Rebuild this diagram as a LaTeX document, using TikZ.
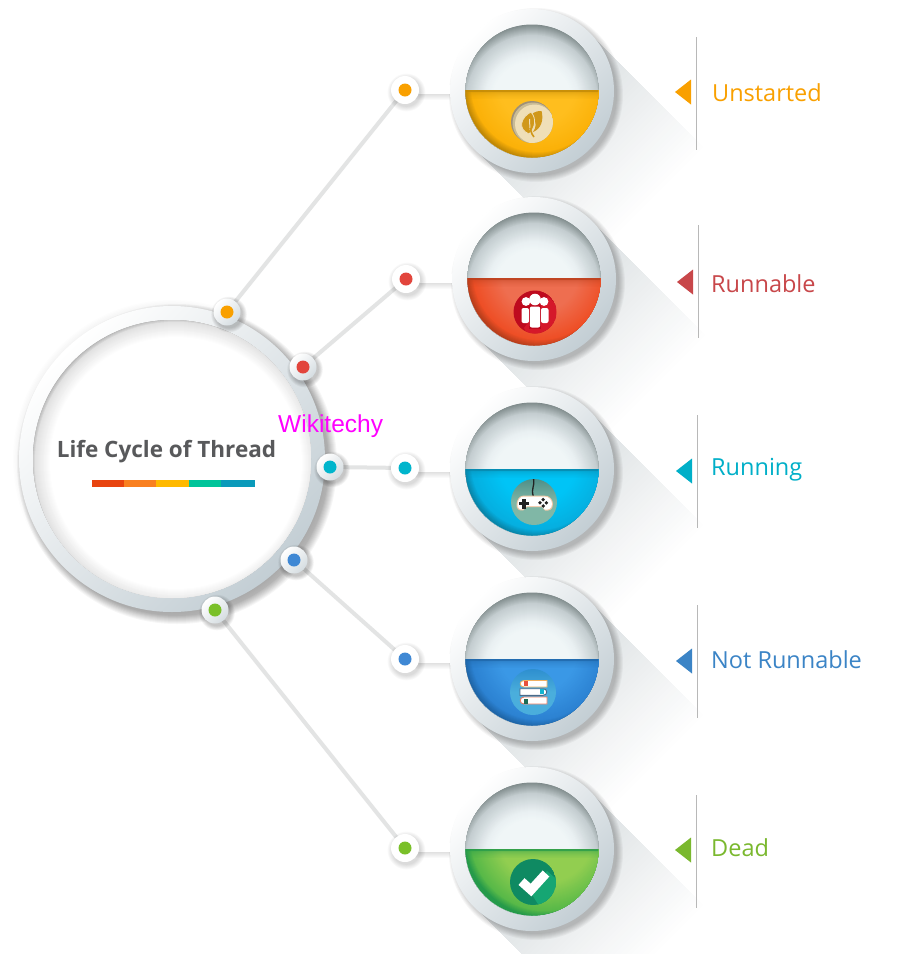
\documentclass[tikz,border=0pt]{standalone}
\usepackage{fontspec}
\setmainfont{Open Sans}
\newfontfamily\wikifont{Liberation Sans}
\usetikzlibrary{calc}
\definecolor{ringlo}{HTML}{C3CED4}
\definecolor{linegray}{HTML}{E3E4E4}
\definecolor{slateT}{HTML}{58595B}
\definecolor{cOrange}{HTML}{F9A000}
\definecolor{cRed}{HTML}{E2453C}
\definecolor{cTeal}{HTML}{00B5CC}
\definecolor{cBlue}{HTML}{3F88D4}
\definecolor{cGreen}{HTML}{7AC029}
\definecolor{tRed}{HTML}{C8474A}
\definecolor{tTeal}{HTML}{00AFC8}
\definecolor{tBlue}{HTML}{3B84C6}
\definecolor{tGreen}{HTML}{7AB82E}
\definecolor{longshade}{HTML}{D9DEE0}
\definecolor{hubgray}{HTML}{ABABAB}
\definecolor{hubmid}{HTML}{E2E2E2}
\definecolor{hubwh}{HTML}{FFFFFF}
\definecolor{bar1}{HTML}{E8440F}\definecolor{bar2}{HTML}{F98020}\definecolor{bar3}{HTML}{FFB900}\definecolor{bar4}{HTML}{00C49A}\definecolor{bar5}{HTML}{0A9ABA}
\definecolor{leafc}{HTML}{D0981A}\definecolor{leafa}{HTML}{9E9078}\definecolor{leafb}{HTML}{C9BB95}\definecolor{leafd}{HTML}{EFDFB8}
\definecolor{pplA}{HTML}{BE0A1E}\definecolor{pplB}{HTML}{D5182A}
\definecolor{padA}{HTML}{4F8F88}\definecolor{padB}{HTML}{80B7A6}\definecolor{padE}{HTML}{F2C9A8}\definecolor{padK}{HTML}{222222}
\definecolor{bkA}{HTML}{2E8FCF}\definecolor{bkB}{HTML}{4AAEDC}\definecolor{bkO}{HTML}{F0B060}\definecolor{bkS}{HTML}{4A6A8A}\definecolor{bkR}{HTML}{EE7A60}\definecolor{bkT1}{HTML}{E8503A}\definecolor{bkT2}{HTML}{12B5D0}\definecolor{bkT3}{HTML}{1F6B55}
\definecolor{okA}{HTML}{0F8A62}\definecolor{okB}{HTML}{16A673}
\definecolor{b0}{HTML}{F0F6F7}\definecolor{b1}{HTML}{E9F0F2}\definecolor{b2}{HTML}{C4CDD0}\definecolor{b3}{HTML}{7C8888}
\definecolor{y0}{HTML}{FFBE1E}\definecolor{y1}{HTML}{FBB108}\definecolor{y2}{HTML}{C08806}
\definecolor{r0}{HTML}{EE6E50}\definecolor{r1}{HTML}{EE4F26}\definecolor{r2}{HTML}{B83E1C}
\definecolor{t0}{HTML}{00C4F6}\definecolor{t1}{HTML}{05AFE0}\definecolor{t2}{HTML}{0886AA}
\definecolor{u0}{HTML}{3A98E6}\definecolor{u1}{HTML}{2C82D2}\definecolor{u2}{HTML}{1F66A8}
\definecolor{g0}{HTML}{92CE50}\definecolor{g1}{HTML}{58B948}\definecolor{g2}{HTML}{259A4A}
\tikzset{
  ringnode/.style={circle,inner sep=0pt,minimum size=164pt,shade,top color=white,bottom color=ringlo,shading angle=45},
  hubring/.style={circle,inner sep=0pt,minimum size=306pt,shade,top color=white,bottom color=ringlo,shading angle=45},
  smallwhite/.style={circle,inner sep=0pt,minimum size=28pt,fill=white},
  hubwhite/.style={circle,inner sep=0pt,minimum size=27pt,shade,top color=white,bottom color=ringlo!70!white,shading angle=45},
  spoke/.style={draw=linegray,line width=4pt},
  labeltext/.style={font=\fontsize{23.5}{27}\selectfont,anchor=west,inner sep=0pt},
  rulemark/.style={draw=black!28,line width=0.7pt},
}
% painter's radial ramp: centre x y, radius from #3 to #4, colour #5 to #6
\newcommand{\ramp}[6]{%
  \pgfmathtruncatemacro{\rsteps}{#3-#4}%
  \foreach \q in {0,...,\rsteps}{%
    \pgfmathsetmacro{\pct}{100*\q/\rsteps}%
    \fill[#6!\pct!#5] (#1,#2) circle ({#3-\q});}%
}
\newcommand{\softshadow}[5]{% x y radius steps offset
  \foreach \k in {1,...,#4}{\fill[black,opacity=0.035] (#1+#5,#2+#5) circle ({#3+\k-2});}
}
\newcommand{\longshadow}[2]{%
  \begin{scope}[shift={(#1,#2)},rotate=-45]
  \foreach \i in {40,39,...,1}{%
    \pgfmathsetmacro{\lenT}{4.0*\i}\pgfmathsetmacro{\pp}{100-2.5*\i+2.5}
    \fill[longshade!\pp!white] (0,-81) -- (\lenT,-81) -- (\lenT,81) -- (0,81) -- cycle;}
  \end{scope}
}
\newcommand{\bowl}[5]{% x y waterY palette-first-letter centre-shift
  \begin{scope}
    \clip (#1,#2) circle (66.5);
    \begin{scope}[shift={(#1,#2+10)}]
      \ramp{0}{0}{77}{66}{b3}{b2}
      \ramp{0}{0}{66}{48}{b2}{b1}
      \ramp{0}{0}{48}{40}{b1}{b0}
    \end{scope}
    \begin{scope}
      \clip (#1-70,#3) rectangle (#1+70,#2+70);
      \begin{scope}[shift={(#1+#5,#2-#5)}]
        \fill[#42] (0,0) circle (100);
        \pgfmathtruncatemacro{\ra}{66.5+1.12*#5+1}\pgfmathtruncatemacro{\rb}{\ra-7}\pgfmathtruncatemacro{\rc}{\rb-28}
        \ramp{0}{0}{\ra}{\rb}{#42}{#41}
        \ramp{0}{0}{\rb}{\rc}{#41}{#40}
      \end{scope}
    \end{scope}
    \fill[#42,opacity=.85] (#1-70,#3) rectangle (#1+70,#3+2);
    \foreach \j/\o in {2/.4,3/.3,4/.24,5/.18,6/.13,7/.09,8/.05}{
      \fill[#42,opacity=\o] (#1-70,#3+\j) rectangle (#1+70,#3+\j+1);}
  \end{scope}
}
\newcommand{\sidetag}[8]{% lineX yTop yBot triY colour textX textY text
  \draw[rulemark] (#1,#2) -- (#1,#3);
  \fill[#5] (#1-21,#4) -- (#1-5,#4-12.5) -- (#1-5,#4+12.5) -- cycle;
  \node[labeltext,text=#5] at (#6,#7) {#8};
}
\begin{document}
\begin{tikzpicture}[x=1pt,y=-1pt]
\clip (0,0) rectangle (902,954);
\fill[white] (0,0) rectangle (902,954);
% long shadows
\longshadow{532}{91}
\longshadow{534}{279}
\longshadow{532}{469}
\longshadow{532}{659}
\longshadow{532}{849}
% hub
\softshadow{172}{459}{153}{9}{5}
\foreach \k in {1,...,5}{\fill[black,opacity=0.008] (172,459) circle ({153+\k*1.2});}
\node (hub) [hubring] at (172,459) {};
\begin{scope}
  \clip (172,459) circle (139);
  \begin{scope}[shift={(176,463)}]
    \ramp{0}{0}{146}{141}{hubgray}{hubmid}
    \ramp{0}{0}{141}{126}{hubmid}{hubwh}
  \end{scope}
\end{scope}
% drop shadows for medallions
\softshadow{532}{91}{82}{7}{4}
\softshadow{534}{279}{82}{7}{4}
\softshadow{532}{469}{82}{7}{4}
\softshadow{532}{659}{82}{7}{4}
\softshadow{532}{849}{82}{7}{4}
\coordinate (h1) at (227,312);
\coordinate (h2) at (303,367);
\coordinate (h3) at (330,467);
\coordinate (h4) at (294,560);
\coordinate (h5) at (215,610);
\coordinate (s1) at (405,90);
\coordinate (s2) at (406,279);
\coordinate (s3) at (405,468);
\coordinate (s4) at (405,659);
\coordinate (s5) at (405,848);
% spokes
\draw[spoke] (h1) -- (s1);
\draw[spoke] (h2) -- (s2);
\draw[spoke] (h3) -- (s3);
\draw[spoke] (h4) -- (s4);
\draw[spoke] (h5) -- (s5);
% short white links (under the rings), soft shadow below
\foreach \sn/\yy in {s1/90,s2/279,s3/468,s4/659,s5/848}{
  \foreach \k in {1,...,6}{\fill[black,opacity=0.018] (\sn |- 0,\yy-5) rectangle (456,\yy+3.5+\k);}
  \fill[white] (\sn |- 0,\yy-5) rectangle (456,\yy+4);
}
% medallion rings
\node (m1) [ringnode] at (532,91) {};
\node (m2) [ringnode] at (534,279) {};
\node (m3) [ringnode] at (532,469) {};
\node (m4) [ringnode] at (532,659) {};
\node (m5) [ringnode] at (532,849) {};
% bowls
\bowl{532}{91}{90}{y}{6}
\bowl{534}{279}{278}{r}{6}
\bowl{532}{469}{469}{t}{6}
\bowl{532}{659}{659}{u}{6}
\bowl{532}{849}{849}{g}{14}
% small nodes
\foreach \cc/\dd/\nm in {s1/cOrange/a,s2/cRed/b,s3/cTeal/c,s4/cBlue/d,s5/cGreen/e}{
  \foreach \k in {1,...,6}{\fill[black,opacity=0.025] ($(\cc)+(1.5,2.5)$) circle ({13.5+\k*0.9});}
  \node (n\nm) [smallwhite] at (\cc) {};
  \fill[\dd] (\cc) circle (6.5);
}
\foreach \cc/\dd/\nm in {h1/cOrange/a,h2/cRed/b,h3/cTeal/c,h4/cBlue/d,h5/cGreen/e}{
  \foreach \k in {1,...,6}{\fill[black,opacity=0.04] ($(\cc)+(2,2.5)$) circle ({13+\k*0.8});}
  \node (p\nm) [hubwhite] at (\cc) {};
  \fill[\dd] (\cc) circle (6.5);
}
% ---- icon 1: leaves
\begin{scope}
  \clip (532,122) circle (21);
  \fill[leafa] (532,122) circle (21);
  \fill[leafb] (533,123) circle (20.5);
  \fill[leafd] (534.5,124) circle (19.5);
  \fill[leafc] (541.5,111) .. controls (534,111) and (530,114) .. (533,118) .. controls (537,122) and (536,128) .. (533,132) .. controls (541,129) and (544,120) .. (541.5,111) -- cycle;
  \fill[leafc,draw=leafd,line width=0.8pt] (531,112) .. controls (521,117) and (517,129) .. (529,134) .. controls (535,128) and (537,119) .. (531,112) -- cycle;
  \draw[leafd,line width=1pt] (529.5,119) -- (530,130);
  \draw[leafc,line width=1.6pt] (530,128) -- (532,134) -- (534,137);
\end{scope}
% ---- icon 2: people
\begin{scope}
  \clip (535,312) circle (21.5);
  \fill[pplA] (535,312) circle (21.5);
  \fill[pplB] (548,296) -- (570,320) -- (535,350) -- (524,328) -- cycle;
  \fill[white] (526,301.5) circle (4.4);
  \fill[white] (544,301.5) circle (4.4);
  \fill[white,rounded corners=2pt] (521.5,308) rectangle (529,323);
  \fill[white,rounded corners=2pt] (541,308) rectangle (548.5,323);
  \fill[white] (535,299.5) circle (5.8);
  \fill[pplA] (528.6,306) rectangle (541.4,329);
  \fill[white,rounded corners=2pt] (529.8,306.5) rectangle (540.2,327.5);
\end{scope}
% ---- icon 3: gamepad
\begin{scope}
  \clip (534,502) circle (23);
  \shade[top color=padA,bottom color=padB,middle color=padB] (534,502) circle (23);
  \draw[padK,line width=1.3pt] (533.6,479) .. controls (535,486) and (531,488) .. (533.2,496);
  \fill[padE] (524,495.5) -- (544,495.5) .. controls (550,495.5) and (553,500) .. (553,504) .. controls (553,510) and (549,511) .. (545,510.5) -- (542,507) -- (527,507) -- (523,510.5) .. controls (519,511) and (516,509) .. (516.6,504) .. controls (517,500) and (519,495.5) .. (524,495.5) -- cycle;
  \fill[white] (524,496.5) -- (544,496.5) .. controls (549,496.5) and (552,500) .. (552,504) .. controls (552,509) and (548,510) .. (545,509.5) -- (541,506) -- (527,506) -- (523,509.5) .. controls (520,510) and (517,508) .. (517.6,504) .. controls (518,500) and (520,496.5) .. (524,496.5) -- cycle;
  \fill[padK] (522.4,498.5) rectangle (525.8,508.5);
  \fill[padK] (519.2,501.8) rectangle (529,505.2);
  \fill[padK] (543.2,499.6) circle (1.9);
  \fill[padK] (543.2,506) circle (1.9);
  \fill[padK] (540,502.8) circle (1.9);
  \fill[padK] (546.4,502.8) circle (1.9);
\end{scope}
% ---- icon 4: stacked books
\begin{scope}
  \clip (533,692) circle (23);
  \shade[top color=bkA,bottom color=bkB,middle color=bkB] (533,692) circle (23);
  \draw[bkO,line width=0.9pt,fill=white] (547,680.5) -- (524,680.5) .. controls (519,680.5) and (519,687) .. (524,687) -- (547,687) -- cycle;
  \draw[bkS,line width=0.9pt,fill=white] (520,688.7) -- (543,688.7) .. controls (548,688.7) and (548,695.3) .. (543,695.3) -- (520,695.3) -- cycle;
  \draw[bkR,line width=0.9pt,fill=white] (547,697) -- (524,697) .. controls (519,697) and (519,704) .. (524,704) -- (547,704) -- cycle;
  \fill[bkT1] (523.5,680.5) rectangle (527.5,686);
  \fill[bkT2] (539.5,689) rectangle (544,694);
  \fill[bkT3] (523.5,698.5) rectangle (527.5,704);
\end{scope}
% ---- icon 5: check
\begin{scope}
  \clip (533,882) circle (23);
  \fill[okA] (533,882) circle (23);
  \fill[okB] (531,893) -- (547,871) -- (575,895) -- (548,920) -- cycle;
  \draw[white,line width=9pt] (521.5,881.5) -- (531,890) -- (546,873.5);
\end{scope}
% hub title and colour bar
\node (title) [font=\bfseries\fontsize{22.5}{26}\selectfont,text=slateT,inner sep=0pt] at (166.5,452) {Life Cycle of Thread};
\fill[bar1] (92,480) rectangle (124,487);
\fill[bar2] (124,480) rectangle (156,487);
\fill[bar3] (156,480) rectangle (189,487);
\fill[bar4] (189,480) rectangle (221,487);
\fill[bar5] (221,480) rectangle (255,487);
\node (wiki) [font=\wikifont\fontsize{24.5}{28}\selectfont,text={rgb,255:red,255;green,0;blue,255},inner sep=0pt,anchor=west] at (278,426) {Wikitechy};
% side labels
\sidetag{696}{37}{150}{92}{cOrange}{712}{93}{Unstarted}
\sidetag{698}{225}{338}{282}{tRed}{711}{284}{Runnable}
\sidetag{697}{415}{528}{471}{tTeal}{711}{470}{Running}
\sidetag{697}{605}{718}{661}{tBlue}{711}{660}{Not Runnable}
\sidetag{696}{795}{908}{850}{tGreen}{711}{848}{Dead}
\end{tikzpicture}
\end{document}
